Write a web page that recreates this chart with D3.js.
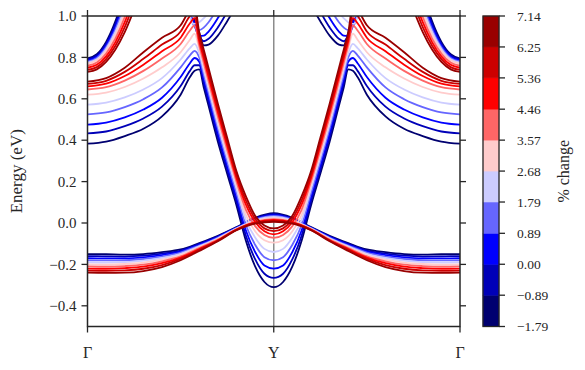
<!DOCTYPE html>
<html>
<head>
<meta charset="utf-8">
<script src="https://cdn.jsdelivr.net/npm/d3@7"></script>
<style>
body { margin: 0; background: #fff; }
</style>
</head>
<body>
<svg id="chart" width="585" height="370"></svg>
<script>
// strain bins of the colour bar (% change) and one colour per bin
var strainEdges = [-1.79, -0.89, 0.00, 0.89, 1.79, 2.68, 3.57, 4.46, 5.36, 6.25, 7.14];
var strainColors = ["#000070", "#0000b8", "#0000ff", "#6666ff", "#ccccff",
                    "#ffcccc", "#ff6666", "#ff0000", "#cc0000", "#990000"];

var kLabels = ["Γ", "Y", "Γ"];
var energyTicks = [-0.4, -0.2, 0.0, 0.2, 0.4, 0.6, 0.8, 1.0];

// half path Γ -> Y (k = 0 .. 1), the other half is the mirror image
// valence band
var kVB = [0, 0.1, 0.2, 0.3, 0.4, 0.5, 0.6, 0.7, 0.8, 0.9, 1.0];
var vbEnergy = [
  [-0.150, -0.151, -0.153, -0.150, -0.141, -0.128, -0.097, -0.062, -0.020, 0.025, 0.047],
  [-0.160, -0.161, -0.162, -0.158, -0.148, -0.133, -0.101, -0.065, -0.022, 0.022, 0.043],
  [-0.170, -0.171, -0.171, -0.166, -0.155, -0.138, -0.105, -0.068, -0.024, 0.019, 0.038],
  [-0.180, -0.181, -0.180, -0.174, -0.162, -0.143, -0.109, -0.071, -0.025, 0.016, 0.034],
  [-0.190, -0.191, -0.189, -0.182, -0.169, -0.149, -0.113, -0.074, -0.027, 0.013, 0.029],
  [-0.200, -0.201, -0.198, -0.191, -0.177, -0.155, -0.117, -0.077, -0.029, 0.009, 0.024],
  [-0.210, -0.211, -0.208, -0.201, -0.185, -0.161, -0.121, -0.080, -0.030, 0.006, 0.019],
  [-0.220, -0.221, -0.218, -0.211, -0.194, -0.167, -0.126, -0.083, -0.032, 0.003, 0.015],
  [-0.230, -0.231, -0.229, -0.221, -0.203, -0.173, -0.130, -0.085, -0.033, 0.000, 0.010],
  [-0.240, -0.241, -0.240, -0.232, -0.213, -0.180, -0.135, -0.088, -0.035, -0.003, 0.006]
];

// lowest conduction band (hill near Γ, steep drop to the minimum at Y)
var kCB = [0, 0.1, 0.2, 0.3, 0.4, 0.5, 0.55, 0.575, 0.6, 0.625, 0.65, 0.7, 0.75, 0.8, 0.85, 0.9, 0.95, 1.0];
var cbEnergy = [
  [0.383, 0.393, 0.420, 0.455, 0.515, 0.620, 0.705, 0.735, 0.742, 0.652, 0.566, 0.393, 0.238, 0.085, -0.085, -0.210, -0.285, -0.310],
  [0.433, 0.442, 0.468, 0.505, 0.562, 0.662, 0.735, 0.762, 0.762, 0.673, 0.587, 0.414, 0.257, 0.105, -0.060, -0.175, -0.245, -0.265],
  [0.475, 0.485, 0.510, 0.548, 0.605, 0.705, 0.772, 0.797, 0.779, 0.693, 0.607, 0.435, 0.277, 0.125, -0.035, -0.140, -0.205, -0.220],
  [0.525, 0.534, 0.560, 0.598, 0.655, 0.752, 0.810, 0.832, 0.800, 0.714, 0.628, 0.456, 0.297, 0.145, -0.010, -0.105, -0.165, -0.180],
  [0.572, 0.582, 0.607, 0.645, 0.700, 0.790, 0.845, 0.865, 0.821, 0.735, 0.649, 0.476, 0.317, 0.165, 0.015, -0.070, -0.125, -0.140],
  [0.620, 0.630, 0.657, 0.698, 0.752, 0.825, 0.885, 0.915, 0.841, 0.755, 0.669, 0.497, 0.337, 0.185, 0.040, -0.040, -0.083, -0.095],
  [0.645, 0.656, 0.688, 0.735, 0.795, 0.865, 0.930, 0.955, 0.858, 0.772, 0.686, 0.514, 0.354, 0.200, 0.065, -0.015, -0.058, -0.072],
  [0.660, 0.673, 0.710, 0.765, 0.830, 0.895, 0.965, 0.990, 0.879, 0.793, 0.707, 0.535, 0.374, 0.218, 0.090, 0.005, -0.040, -0.055],
  [0.672, 0.687, 0.730, 0.793, 0.862, 0.925, 1.000, 1.020, 0.900, 0.814, 0.728, 0.556, 0.393, 0.235, 0.110, 0.020, -0.026, -0.039],
  [0.683, 0.700, 0.750, 0.825, 0.895, 0.955, 1.030, 1.050, 0.921, 0.835, 0.749, 0.576, 0.412, 0.250, 0.130, 0.035, -0.012, -0.026]
];

// upper branch of the anticrossing near k = 0.6
var kUp = [0.54, 0.57, 0.6, 0.625, 0.65, 0.7, 0.75, 0.8];
var upEnergy = [
  [1.12, 1.01, 0.920, 0.858, 0.862, 0.905, 0.975, 1.05],
  [1.09, 0.99, 0.905, 0.878, 0.890, 0.945, 1.020, 1.10],
  [1.06, 0.97, 0.903, 0.905, 0.925, 0.990, 1.070, 1.15],
  [1.04, 0.955, 0.932, 0.945, 0.970, 1.040, 1.120, 1.20],
  [1.03, 0.962, 0.970, 0.990, 1.015, 1.090, 1.170, 1.25],
  [1.04, 0.995, 1.005, 1.030, 1.060, 1.140, 1.220, 1.30],
  [1.06, 1.030, 1.040, 1.065, 1.095, 1.180, 1.260, 1.34],
  [1.08, 1.060, 1.070, 1.095, 1.130, 1.210, 1.300, 1.38],
  [1.10, 1.090, 1.100, 1.125, 1.160, 1.240, 1.330, 1.42],
  [1.12, 1.120, 1.130, 1.155, 1.190, 1.270, 1.360, 1.46]
];

// band with its minimum at Γ
var kGam = [0, 0.05, 0.1, 0.15, 0.2, 0.25];
var gamEnergy = [
  [0.795, 0.815, 0.875, 0.975, 1.115, 1.295],
  [0.790, 0.809, 0.866, 0.962, 1.096, 1.268],
  [0.785, 0.803, 0.858, 0.949, 1.077, 1.241],
  [0.780, 0.797, 0.849, 0.936, 1.057, 1.213],
  [0.775, 0.791, 0.841, 0.923, 1.038, 1.186],
  [0.770, 0.786, 0.832, 0.910, 1.019, 1.159],
  [0.760, 0.775, 0.819, 0.892, 0.995, 1.127],
  [0.750, 0.764, 0.805, 0.874, 0.970, 1.094],
  [0.740, 0.753, 0.792, 0.856, 0.946, 1.063],
  [0.730, 0.742, 0.778, 0.838, 0.922, 1.030]
];

var svg = d3.select("#chart");
var pLeft = 87.5, pRight = 460, pTop = 16, pBottom = 326.5;
var ink = "#262626";
var serif = "'Liberation Serif', serif";

var x = d3.scaleLinear().domain([0, 2]).range([pLeft, pRight]);
var y = d3.scaleLinear().domain([-0.5, 1.0]).range([pBottom, pTop]);

svg.append("defs").append("clipPath").attr("id", "plotclip")
  .append("rect")
  .attr("x", pLeft).attr("y", pTop)
  .attr("width", pRight - pLeft).attr("height", pBottom - pTop);

// vertical line at Y
svg.append("line")
  .attr("x1", x(1)).attr("x2", x(1))
  .attr("y1", pTop).attr("y2", pBottom)
  .style("stroke", "#8c8c8c")
  .style("stroke-width", 1.5);

var line = d3.line()
  .x(function(d) { return x(d[0]); })
  .y(function(d) { return y(d[1]); })
  .curve(d3.curveMonotoneX);

// whole path, left half + mirrored right half
function fullPath(ks, es) {
  var pts = ks.map(function(k, j) { return [k, es[j]]; });
  for (var j = ks.length - 2; j >= 0; j--) pts.push([2 - ks[j], es[j]]);
  return pts;
}
function leftPath(ks, es) {
  return ks.map(function(k, j) { return [k, es[j]]; });
}
function rightPath(ks, es) {
  var pts = [];
  for (var j = ks.length - 1; j >= 0; j--) pts.push([2 - ks[j], es[j]]);
  return pts;
}

var bands = svg.append("g").attr("clip-path", "url(#plotclip)");

strainColors.forEach(function(col, i) {
  var paths = [
    fullPath(kVB, vbEnergy[i]),
    fullPath(kCB, cbEnergy[i]),
    leftPath(kUp, upEnergy[i]),
    rightPath(kUp, upEnergy[i]),
    leftPath(kGam, gamEnergy[i]),
    rightPath(kGam, gamEnergy[i])
  ];
  paths.forEach(function(p) {
    bands.append("path")
      .attr("d", line(p))
      .style("fill", "none")
      .style("stroke", col)
      .style("stroke-width", 1.8);
  });
});

// frame
svg.append("rect")
  .attr("x", pLeft).attr("y", pTop)
  .attr("width", pRight - pLeft).attr("height", pBottom - pTop)
  .style("fill", "none")
  .style("stroke", ink)
  .style("stroke-width", 1.5);

function label(sel, size) {
  return sel.style("font-family", serif)
    .style("font-size", size + "px")
    .style("fill", ink);
}

// energy ticks, left and right, outward
var yt = svg.append("g");
energyTicks.forEach(function(v) {
  yt.append("line").attr("x1", pLeft - 6).attr("x2", pLeft)
    .attr("y1", y(v)).attr("y2", y(v)).style("stroke", ink).style("stroke-width", 1.3);
  yt.append("line").attr("x1", pRight).attr("x2", pRight + 6)
    .attr("y1", y(v)).attr("y2", y(v)).style("stroke", ink).style("stroke-width", 1.3);
  label(yt.append("text"), 15)
    .attr("x", pLeft - 11).attr("y", y(v))
    .attr("dy", "0.35em")
    .attr("text-anchor", "end")
    .text(d3.format(".1f")(v).replace("-", "\u2212"));
});

// k ticks top and bottom, outward
kLabels.forEach(function(lab, i) {
  svg.append("line").attr("x1", x(i)).attr("x2", x(i))
    .attr("y1", pBottom).attr("y2", pBottom + 6).style("stroke", ink).style("stroke-width", 1.3);
  svg.append("line").attr("x1", x(i)).attr("x2", x(i))
    .attr("y1", pTop - 6).attr("y2", pTop).style("stroke", ink).style("stroke-width", 1.3);
  label(svg.append("text"), 16)
    .attr("x", x(i)).attr("y", pBottom + 31)
    .attr("text-anchor", "middle")
    .text(lab);
});

label(svg.append("text"), 17)
  .attr("transform", "translate(22," + ((pTop + pBottom) / 2) + ") rotate(-90)")
  .attr("text-anchor", "middle")
  .text("Energy (eV)");

// colour bar
var cbLeft = 483, cbWidth = 16;
var c = d3.scaleLinear().domain([strainEdges[0], strainEdges[10]]).range([pBottom, pTop]);
var cb = svg.append("g");
strainColors.forEach(function(col, i) {
  cb.append("rect")
    .attr("x", cbLeft).attr("y", c(strainEdges[i + 1]))
    .attr("width", cbWidth).attr("height", c(strainEdges[i]) - c(strainEdges[i + 1]))
    .style("fill", col)
    .style("stroke", col)
    .style("stroke-width", 0.5);
});
cb.append("rect")
  .attr("x", cbLeft).attr("y", pTop)
  .attr("width", cbWidth).attr("height", pBottom - pTop)
  .style("fill", "none").style("stroke", ink).style("stroke-width", 1.3);
strainEdges.forEach(function(v) {
  cb.append("line").attr("x1", cbLeft + cbWidth).attr("x2", cbLeft + cbWidth + 6)
    .attr("y1", c(v)).attr("y2", c(v)).style("stroke", ink).style("stroke-width", 1.3);
  label(cb.append("text"), 13.5)
    .attr("x", cbLeft + cbWidth + 18).attr("y", c(v))
    .attr("dy", "0.35em")
    .text(d3.format(".2f")(v).replace("-", "\u2212"));
});
label(svg.append("text"), 16)
  .attr("transform", "translate(569," + ((pTop + pBottom) / 2) + ") rotate(-90)")
  .attr("text-anchor", "middle")
  .text("% change");
</script>
</body>
</html>
